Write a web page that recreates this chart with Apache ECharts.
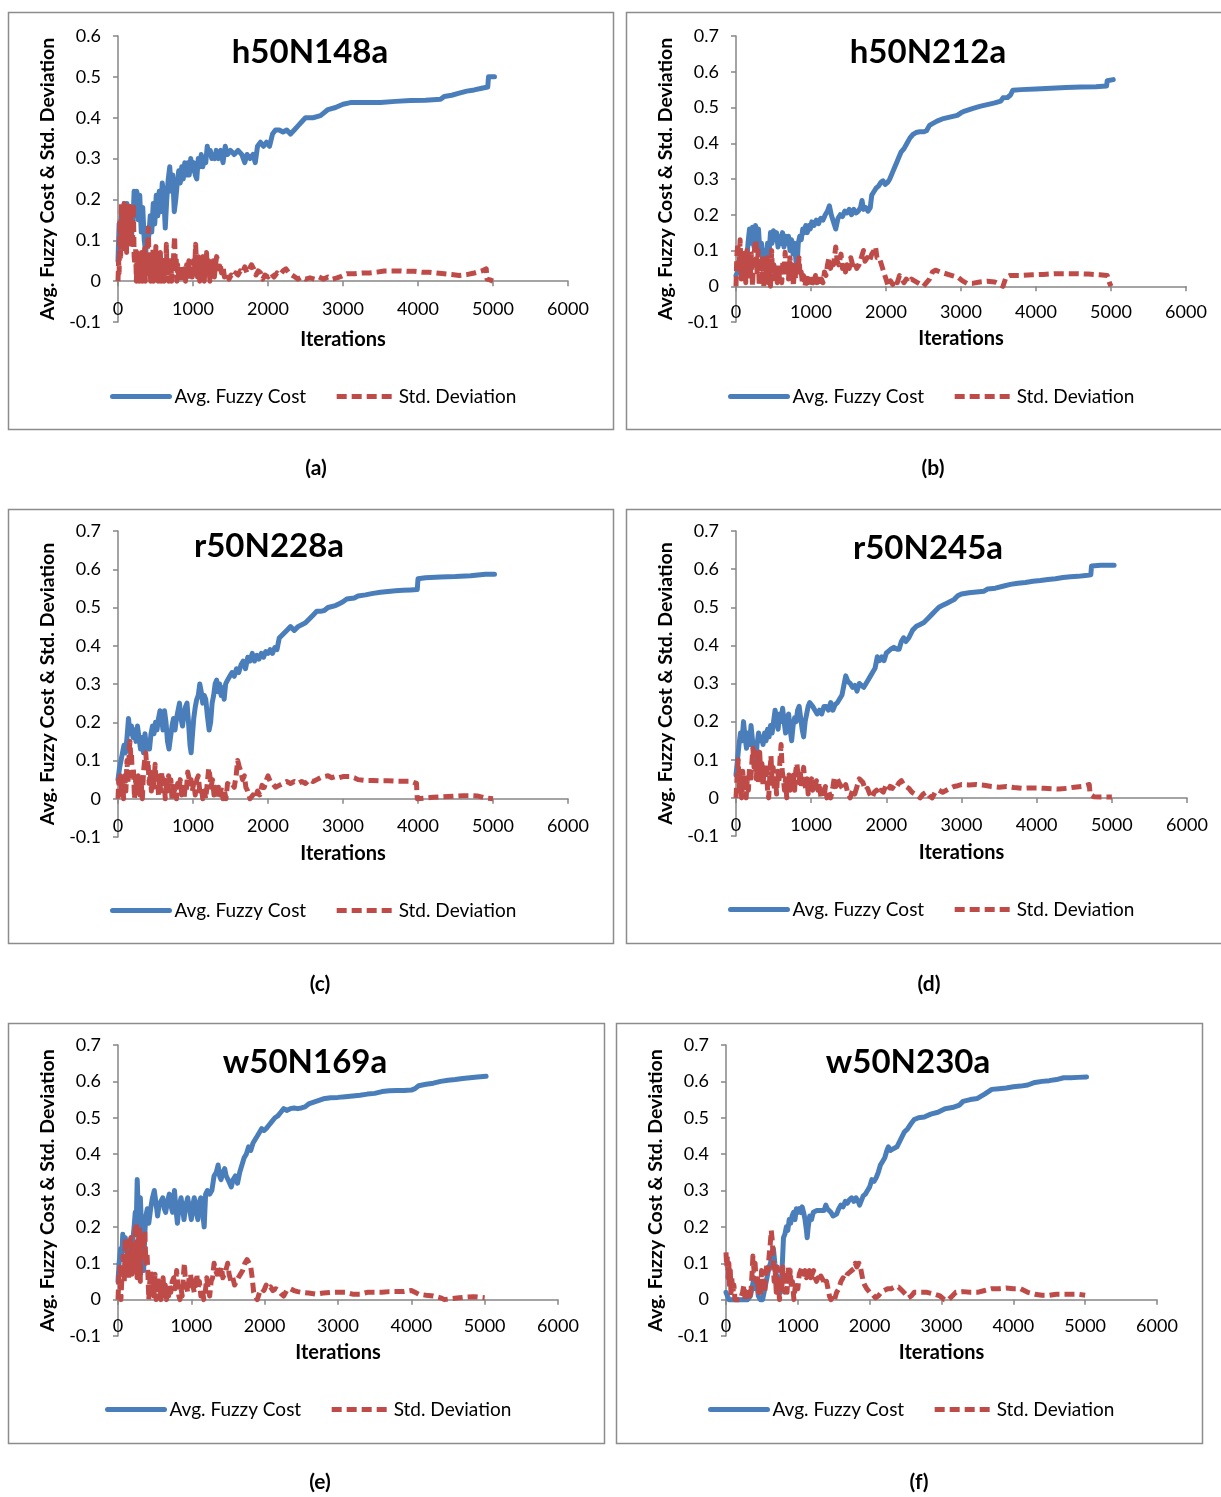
<!DOCTYPE html>
<html>
<head>
<meta charset="utf-8">
<title>Avg. Fuzzy Cost & Std. Deviation</title>
<script src="https://cdn.jsdelivr.net/npm/echarts@6/dist/echarts.min.js"></script>
<style>
  html, body { margin: 0; padding: 0; background: #fff; }
  #chart { width: 1221px; height: 1497px; }
</style>
</head>
<body>
<div id="chart"></div>
<script>
// Noms des séries et textes
const seriesNames = ["Avg. Fuzzy Cost", "Std. Deviation"];
const panelTitles = ["h50N148a", "h50N212a", "r50N228a", "r50N245a", "w50N169a", "w50N230a"];
const captions = ["(a)", "(b)", "(c)", "(d)", "(e)", "(f)"];
const xTicks = [0, 1000, 2000, 3000, 4000, 5000, 6000];
const yMin = -0.1;
const yMaxes = [0.6, 0.7, 0.7, 0.7, 0.7, 0.7];

// (a) h50N148a : [itération, valeur]
const h148Cost = [[0,0.05],[15,0.14],[30,0.1],[45,0.16],[60,0.12],[80,0.19],[100,0.14],[120,0.19],[140,0.12],[160,0.17],[180,0.11],[200,0.15],[215,0.22],[235,0.17],[250,0.22],[270,0.15],[290,0.21],[310,0.12],[330,0.18],[350,0.1],[370,0.07],[390,0.13],[410,0.11],[430,0.16],[450,0.12],[470,0.19],[490,0.14],[510,0.21],[530,0.16],[550,0.22],[570,0.17],[590,0.24],[610,0.21],[630,0.13],[650,0.2],[670,0.25],[690,0.28],[710,0.22],[730,0.26],[750,0.17],[770,0.2],[790,0.24],[810,0.27],[830,0.24],[850,0.28],[870,0.25],[890,0.29],[910,0.26],[930,0.29],[950,0.26],[970,0.3],[990,0.27],[1010,0.29],[1030,0.26],[1050,0.25],[1070,0.3],[1090,0.28],[1110,0.31],[1130,0.28],[1150,0.3],[1170,0.29],[1190,0.33],[1210,0.31],[1230,0.32],[1250,0.3],[1270,0.31],[1290,0.3],[1310,0.32],[1340,0.3],[1370,0.32],[1400,0.29],[1430,0.33],[1460,0.31],[1500,0.32],[1550,0.31],[1600,0.32],[1650,0.31],[1690,0.29],[1720,0.31],[1760,0.3],[1800,0.31],[1830,0.29],[1860,0.33],[1900,0.34],[1940,0.33],[1980,0.34],[2020,0.33],[2060,0.36],[2100,0.37],[2150,0.37],[2200,0.365],[2250,0.37],[2300,0.36],[2350,0.37],[2400,0.38],[2450,0.39],[2500,0.4],[2600,0.4],[2700,0.405],[2800,0.42],[2900,0.425],[3000,0.433],[3100,0.437],[3300,0.437],[3500,0.437],[3700,0.44],[3900,0.442],[4100,0.443],[4300,0.445],[4350,0.452],[4450,0.455],[4550,0.46],[4650,0.465],[4750,0.468],[4850,0.472],[4930,0.475],[4940,0.5],[5020,0.5]];
const h148Std = [[0,0],[8,0.05],[15,0.02],[25,0.15],[35,0.06],[45,0.19],[55,0.1],[65,0.18],[75,0.08],[85,0.19],[95,0.12],[105,0.18],[115,0.07],[125,0.17],[135,0.1],[145,0.19],[155,0.11],[165,0.18],[175,0.09],[185,0.17],[195,0.1],[205,0.19],[215,0.06],[225,0.04],[235,0.08],[245,0],[255,0.07],[265,0.02],[275,0.06],[285,0],[295,0.05],[305,0.01],[315,0.07],[325,0],[335,0.06],[345,0.02],[355,0.08],[365,0],[375,0.06],[385,0.02],[395,0.1],[405,0.13],[415,0.03],[425,0.06],[435,0],[445,0.05],[455,0.01],[465,0.08],[475,0],[485,0.06],[495,0.02],[505,0.085],[515,0.01],[525,0.05],[535,0],[545,0.06],[555,0.02],[565,0.07],[575,0],[585,0.05],[595,0.01],[605,0.06],[615,0],[625,0.05],[635,0.02],[645,0.09],[655,0.01],[665,0.05],[675,0],[685,0.06],[695,0.02],[705,0.05],[715,0],[725,0.06],[735,0.03],[745,0.08],[755,0.11],[765,0.03],[775,0.06],[785,0],[795,0.04],[810,0.01],[825,0.03],[840,0],[855,0.04],[870,0.01],[885,0.03],[900,0],[915,0.04],[930,0.02],[945,0.05],[960,0],[975,0.03],[990,0.01],[1005,0.05],[1020,0.02],[1035,0.09],[1045,0.05],[1060,0.01],[1075,0.06],[1090,0],[1105,0.05],[1120,0.02],[1135,0.06],[1150,0],[1165,0.04],[1180,0.07],[1195,0.02],[1210,0.05],[1225,0],[1240,0.04],[1255,0.02],[1270,0.05],[1285,0.01],[1300,0.04],[1315,0.06],[1330,0.05],[1345,0.03],[1360,0.045],[1380,0.02],[1400,0.035],[1420,0.01],[1450,0.02],[1480,0.005],[1510,0.015],[1540,0.01],[1570,0.02],[1600,0.015],[1630,0.025],[1660,0.02],[1690,0.035],[1720,0.02],[1750,0.03],[1780,0.04],[1810,0.03],[1840,0.015],[1870,0.025],[1900,0.02],[1930,0.005],[1960,0.015],[2000,0.01],[2040,0.02],[2080,0.01],[2120,0.02],[2160,0.015],[2200,0.025],[2240,0.03],[2280,0.02],[2320,0.015],[2360,0.01],[2400,0.005],[2450,0.01],[2500,0.005],[2560,0.008],[2620,0.005],[2680,0.01],[2740,0.005],[2800,0.01],[2860,0.005],[2920,0.008],[2980,0.012],[3050,0.018],[3150,0.018],[3250,0.02],[3350,0.02],[3450,0.022],[3550,0.025],[3650,0.025],[3750,0.025],[3850,0.024],[3950,0.024],[4050,0.022],[4150,0.022],[4250,0.02],[4350,0.018],[4450,0.016],[4550,0.014],[4650,0.016],[4750,0.02],[4850,0.025],[4910,0.03],[4920,0.005],[4960,0.003],[5000,0]];

// (b) h50N212a
const h212Cost = [[0,0.03],[20,0.04],[40,0.05],[60,0.06],[80,0.07],[100,0.05],[120,0.08],[140,0.06],[160,0.12],[180,0.16],[200,0.12],[220,0.165],[240,0.11],[260,0.17],[280,0.12],[300,0.16],[320,0.09],[340,0.12],[360,0.07],[380,0.1],[400,0.07],[420,0.12],[440,0.09],[460,0.15],[480,0.12],[500,0.155],[520,0.13],[540,0.15],[560,0.11],[580,0.14],[600,0.12],[620,0.15],[640,0.11],[660,0.14],[680,0.12],[700,0.14],[720,0.1],[740,0.13],[760,0.09],[780,0.12],[800,0.07],[815,0.06],[830,0.12],[850,0.14],[870,0.13],[890,0.16],[910,0.15],[930,0.17],[950,0.15],[970,0.17],[990,0.16],[1010,0.18],[1040,0.17],[1070,0.185],[1100,0.175],[1130,0.19],[1160,0.185],[1190,0.2],[1220,0.21],[1245,0.225],[1270,0.2],[1300,0.18],[1330,0.16],[1360,0.19],[1390,0.2],[1420,0.195],[1450,0.21],[1480,0.205],[1510,0.215],[1540,0.2],[1570,0.215],[1600,0.205],[1630,0.21],[1660,0.22],[1680,0.24],[1700,0.215],[1730,0.22],[1760,0.21],[1790,0.22],[1810,0.255],[1840,0.265],[1870,0.275],[1900,0.28],[1930,0.29],[1960,0.295],[1990,0.285],[2020,0.29],[2050,0.3],[2080,0.315],[2110,0.33],[2140,0.345],[2170,0.36],[2200,0.375],[2240,0.385],[2280,0.4],[2320,0.415],[2360,0.425],[2400,0.43],[2450,0.432],[2500,0.432],[2540,0.435],[2580,0.45],[2620,0.455],[2680,0.462],[2750,0.468],[2850,0.473],[2950,0.478],[3000,0.485],[3050,0.49],[3150,0.497],[3250,0.503],[3350,0.508],[3450,0.513],[3530,0.518],[3560,0.527],[3620,0.528],[3660,0.535],[3690,0.548],[3800,0.55],[4000,0.552],[4200,0.554],[4400,0.556],[4600,0.557],[4800,0.558],[4940,0.56],[4950,0.575],[5030,0.578]];
const h212Std = [[0,0],[10,0.08],[25,0.12],[40,0.05],[55,0.13],[70,0.02],[85,0.1],[100,0.04],[115,0.09],[130,0.01],[145,0.1],[160,0.03],[175,0.08],[190,0.02],[205,0.09],[220,0],[235,0.07],[250,0.11],[265,0.13],[280,0.04],[295,0.1],[310,0],[325,0.08],[340,0.02],[355,0.09],[370,0],[385,0.06],[400,0.03],[415,0.08],[430,0.01],[445,0.07],[460,0],[475,0.1],[490,0.02],[505,0.06],[520,0.03],[535,0.05],[550,0.01],[565,0.06],[580,0.02],[595,0.05],[610,0.01],[625,0.07],[640,0.03],[655,0.095],[670,0.04],[685,0.06],[700,0.02],[720,0.08],[735,0.03],[750,0.06],[765,0],[780,0.05],[795,0.02],[810,0.07],[825,0.04],[840,0.08],[855,0.03],[870,0.04],[885,0.01],[900,0.03],[920,0],[940,0.03],[960,0.01],[980,0.02],[1000,0],[1020,0.02],[1040,0],[1060,0.03],[1080,0.01],[1100,0.02],[1120,0],[1140,0.02],[1160,0.01],[1180,0.04],[1200,0.03],[1220,0.06],[1240,0.08],[1260,0.05],[1280,0.07],[1300,0.06],[1330,0.11],[1350,0.07],[1370,0.06],[1400,0.09],[1420,0.05],[1440,0.07],[1460,0.04],[1480,0.06],[1510,0.05],[1530,0.08],[1555,0.06],[1580,0.07],[1610,0.05],[1640,0.06],[1670,0.08],[1700,0.1],[1720,0.07],[1750,0.08],[1780,0.07],[1810,0.09],[1840,0.1],[1860,0.11],[1880,0.08],[1910,0.08],[1940,0.06],[1970,0.04],[2000,0.02],[2030,0],[2060,0.015],[2090,0.005],[2120,0.02],[2150,0.01],[2180,0.03],[2210,0.02],[2240,0.01],[2270,0.02],[2300,0.01],[2340,0.02],[2380,0.015],[2420,0.01],[2460,0.005],[2500,0],[2540,0.01],[2580,0.02],[2620,0.04],[2660,0.045],[2720,0.04],[2800,0.035],[2880,0.03],[2960,0.025],[3020,0.015],[3080,0.008],[3150,0.008],[3250,0.012],[3350,0.014],[3450,0.012],[3520,0.005],[3560,0],[3600,0.025],[3650,0.03],[3800,0.03],[3950,0.032],[4100,0.033],[4250,0.035],[4400,0.035],[4550,0.035],[4700,0.034],[4850,0.032],[4950,0.03],[4980,0.01],[5000,0]];

// (c) r50N228a
const r228Cost = [[0,0.05],[20,0.08],[40,0.1],[60,0.12],[80,0.14],[100,0.12],[120,0.16],[140,0.21],[160,0.17],[180,0.19],[200,0.16],[220,0.18],[240,0.15],[260,0.19],[280,0.16],[300,0.13],[320,0.16],[340,0.12],[360,0.17],[380,0.13],[400,0.15],[420,0.13],[440,0.17],[460,0.19],[480,0.17],[500,0.2],[520,0.18],[540,0.21],[560,0.23],[580,0.21],[600,0.18],[620,0.23],[640,0.2],[660,0.15],[680,0.13],[700,0.16],[720,0.19],[740,0.21],[760,0.18],[780,0.21],[800,0.23],[820,0.25],[840,0.21],[860,0.19],[880,0.22],[900,0.24],[920,0.25],[940,0.2],[960,0.14],[975,0.12],[990,0.16],[1010,0.21],[1030,0.24],[1050,0.26],[1070,0.27],[1090,0.3],[1110,0.28],[1130,0.25],[1150,0.27],[1170,0.26],[1190,0.22],[1215,0.18],[1235,0.2],[1255,0.25],[1275,0.27],[1295,0.3],[1315,0.31],[1335,0.28],[1355,0.3],[1375,0.27],[1395,0.29],[1415,0.26],[1435,0.3],[1460,0.31],[1490,0.32],[1520,0.33],[1550,0.32],[1580,0.34],[1610,0.33],[1640,0.35],[1670,0.36],[1700,0.34],[1730,0.37],[1760,0.36],[1790,0.38],[1820,0.36],[1850,0.375],[1880,0.365],[1910,0.38],[1940,0.37],[1970,0.385],[2000,0.38],[2030,0.39],[2060,0.38],[2090,0.395],[2120,0.39],[2150,0.42],[2200,0.43],[2250,0.44],[2300,0.45],[2350,0.44],[2400,0.45],[2450,0.455],[2500,0.46],[2550,0.47],[2600,0.48],[2650,0.49],[2700,0.49],[2750,0.492],[2800,0.5],[2900,0.505],[2950,0.51],[3000,0.515],[3050,0.522],[3150,0.525],[3200,0.53],[3300,0.533],[3400,0.537],[3500,0.54],[3600,0.542],[3700,0.544],[3800,0.545],[3900,0.546],[3990,0.547],[4000,0.575],[4100,0.578],[4300,0.58],[4500,0.581],[4700,0.583],[4800,0.585],[4900,0.587],[5020,0.587]];
const r228Std = [[0,0],[10,0.05],[20,0.01],[30,0.06],[45,0.02],[60,0.05],[75,0],[90,0.06],[105,0.02],[120,0.1],[135,0.04],[150,0.13],[160,0.15],[170,0.11],[180,0.12],[190,0.06],[205,0.08],[220,0],[235,0.05],[250,0.02],[270,0.06],[290,0.01],[310,0.04],[325,0],[340,0.07],[355,0.1],[370,0.12],[385,0.08],[400,0.1],[415,0.04],[430,0.07],[445,0.02],[460,0.06],[475,0.03],[495,0.09],[510,0.04],[525,0.06],[540,0.01],[555,0.05],[570,0.02],[585,0.07],[600,0.03],[615,0.05],[630,0],[645,0.04],[660,0.02],[675,0.06],[690,0.03],[705,0.05],[720,0],[735,0.04],[750,0.02],[765,0.03],[780,0],[795,0.04],[810,0.02],[830,0.05],[850,0.01],[865,0.03],[880,0],[895,0.03],[910,0.02],[930,0.07],[945,0.075],[960,0.04],[975,0.05],[990,0.02],[1010,0.04],[1030,0.01],[1050,0.05],[1070,0.06],[1090,0.02],[1110,0.03],[1130,0],[1150,0.02],[1170,0],[1190,0.04],[1210,0.08],[1225,0.06],[1240,0.03],[1260,0.05],[1280,0.01],[1300,0.03],[1320,0],[1340,0.03],[1360,0.01],[1380,0.03],[1400,0],[1420,0.02],[1440,0],[1460,0.04],[1490,0.035],[1520,0.04],[1550,0.03],[1575,0.06],[1595,0.1],[1615,0.085],[1640,0.07],[1660,0.05],[1685,0.06],[1705,0.03],[1730,0.02],[1760,0],[1800,0.01],[1830,0],[1860,0.02],[1890,0.01],[1920,0.035],[1950,0.03],[1980,0.05],[2000,0.06],[2030,0.045],[2060,0.04],[2100,0.03],[2150,0.035],[2200,0.04],[2250,0.045],[2300,0.04],[2350,0.045],[2400,0.04],[2450,0.045],[2500,0.04],[2550,0.05],[2600,0.045],[2650,0.05],[2700,0.055],[2750,0.058],[2800,0.06],[2850,0.055],[2900,0.058],[2950,0.055],[3000,0.058],[3100,0.058],[3150,0.055],[3200,0.05],[3300,0.048],[3400,0.048],[3500,0.047],[3600,0.047],[3700,0.046],[3800,0.046],[3900,0.046],[3980,0.04],[3990,0],[4100,0.002],[4200,0.004],[4300,0.005],[4400,0.006],[4500,0.007],[4600,0.008],[4700,0.008],[4800,0.007],[4900,0.002],[5000,0]];

// (d) r50N245a
const r245Cost = [[0,0.06],[20,0.1],[40,0.14],[60,0.17],[80,0.15],[100,0.2],[120,0.16],[140,0.13],[160,0.17],[180,0.14],[200,0.19],[220,0.15],[240,0.11],[260,0.09],[280,0.14],[300,0.17],[320,0.15],[340,0.16],[360,0.14],[380,0.17],[400,0.15],[420,0.18],[440,0.16],[460,0.19],[480,0.17],[500,0.2],[520,0.23],[540,0.21],[560,0.18],[580,0.22],[600,0.2],[620,0.235],[640,0.2],[660,0.17],[680,0.21],[700,0.22],[720,0.18],[740,0.15],[760,0.19],[780,0.21],[800,0.2],[820,0.23],[840,0.24],[860,0.21],[880,0.18],[900,0.16],[920,0.2],[940,0.22],[960,0.24],[980,0.25],[1000,0.255],[1020,0.24],[1050,0.23],[1080,0.22],[1110,0.23],[1140,0.22],[1170,0.24],[1200,0.24],[1230,0.23],[1260,0.25],[1290,0.23],[1320,0.245],[1350,0.25],[1380,0.26],[1410,0.27],[1440,0.3],[1460,0.32],[1490,0.305],[1520,0.3],[1550,0.29],[1580,0.295],[1610,0.28],[1640,0.3],[1670,0.295],[1700,0.29],[1730,0.3],[1760,0.31],[1790,0.32],[1820,0.33],[1850,0.34],[1880,0.37],[1910,0.36],[1940,0.37],[1970,0.36],[2000,0.38],[2030,0.385],[2060,0.39],[2100,0.395],[2140,0.39],[2170,0.39],[2200,0.41],[2230,0.42],[2260,0.41],[2300,0.42],[2350,0.44],[2400,0.45],[2450,0.455],[2500,0.46],[2550,0.47],[2600,0.48],[2650,0.49],[2700,0.5],[2750,0.505],[2800,0.51],[2850,0.515],[2900,0.52],[2950,0.53],[3000,0.535],[3100,0.538],[3200,0.54],[3300,0.542],[3350,0.548],[3450,0.55],[3550,0.555],[3650,0.56],[3750,0.563],[3850,0.565],[3950,0.568],[4050,0.57],[4150,0.573],[4250,0.575],[4350,0.578],[4450,0.58],[4550,0.581],[4650,0.583],[4720,0.585],[4730,0.608],[4850,0.61],[5030,0.61]];
const r245Std = [[0,0],[15,0.06],[30,0.1],[45,0.02],[60,0.05],[75,0],[90,0.07],[105,0.02],[120,0.06],[135,0],[150,0.05],[165,0.02],[180,0.08],[195,0.04],[210,0.09],[225,0.13],[240,0.08],[255,0.12],[270,0.05],[285,0.1],[300,0.04],[315,0.12],[330,0.06],[345,0.09],[360,0.03],[375,0.08],[390,0.05],[405,0.09],[420,0.02],[435,0],[450,0.06],[465,0.11],[480,0.05],[495,0.08],[510,0.02],[525,0.05],[540,0.01],[555,0.07],[570,0.04],[585,0.1],[600,0.14],[615,0.07],[630,0.05],[645,0.02],[660,0.05],[675,0],[690,0.04],[705,0.06],[720,0.02],[735,0.05],[750,0.03],[765,0.06],[780,0.02],[795,0.07],[810,0.09],[825,0.06],[840,0.04],[855,0.07],[870,0.03],[885,0.06],[900,0.08],[915,0.04],[930,0.02],[945,0.05],[960,0.01],[975,0.04],[990,0.02],[1005,0.05],[1020,0.02],[1035,0.04],[1050,0.03],[1070,0.045],[1090,0.02],[1110,0.04],[1130,0],[1150,0.02],[1170,0],[1190,0.03],[1210,0],[1230,0.02],[1260,0],[1290,0.03],[1310,0.055],[1330,0.03],[1350,0.05],[1370,0.04],[1400,0.03],[1430,0.02],[1460,0.035],[1490,0.01],[1520,0],[1550,0.02],[1580,0.01],[1610,0.03],[1640,0.05],[1660,0.055],[1690,0.04],[1720,0.02],[1750,0.025],[1780,0.01],[1810,0],[1840,0.015],[1870,0.02],[1900,0.01],[1930,0.02],[1960,0.015],[1990,0.03],[2020,0.02],[2050,0.03],[2080,0.025],[2110,0.035],[2140,0.03],[2170,0.04],[2200,0.045],[2230,0.035],[2260,0.03],[2300,0.025],[2340,0.015],[2380,0.01],[2420,0.005],[2450,0],[2490,0.01],[2530,0.015],[2570,0.005],[2610,0],[2650,0.015],[2700,0.02],[2750,0.015],[2800,0.02],[2850,0.025],[2900,0.03],[2950,0.032],[3000,0.035],[3100,0.034],[3200,0.035],[3300,0.033],[3400,0.03],[3500,0.028],[3600,0.03],[3700,0.027],[3800,0.025],[3900,0.026],[4000,0.026],[4100,0.025],[4200,0.024],[4300,0.023],[4400,0.025],[4500,0.028],[4600,0.03],[4700,0.035],[4710,0.01],[4760,0.003],[4850,0.002],[5000,0.002]];

// (e) w50N169a
const w169Cost = [[0,0.05],[15,0.1],[35,0.14],[50,0.11],[65,0.18],[80,0.15],[100,0.17],[120,0.13],[140,0.16],[160,0.14],[180,0.17],[200,0.16],[220,0.2],[235,0.24],[250,0.22],[262,0.33],[275,0.25],[290,0.19],[305,0.28],[320,0.2],[335,0.1],[350,0.08],[365,0.18],[380,0.23],[400,0.25],[420,0.21],[445,0.25],[470,0.28],[495,0.3],[515,0.27],[540,0.23],[560,0.26],[585,0.27],[610,0.28],[630,0.25],[650,0.24],[675,0.27],[700,0.29],[720,0.26],[745,0.24],[770,0.3],[790,0.25],[810,0.21],[835,0.26],[860,0.28],[880,0.25],[900,0.22],[925,0.26],[950,0.28],[975,0.25],[1000,0.22],[1020,0.26],[1040,0.28],[1065,0.24],[1090,0.22],[1110,0.27],[1130,0.28],[1155,0.24],[1175,0.2],[1195,0.29],[1220,0.3],[1250,0.29],[1280,0.3],[1310,0.34],[1340,0.35],[1365,0.37],[1385,0.34],[1405,0.33],[1430,0.35],[1455,0.36],[1475,0.34],[1500,0.33],[1520,0.33],[1545,0.31],[1570,0.33],[1600,0.34],[1630,0.32],[1660,0.35],[1690,0.37],[1720,0.39],[1750,0.4],[1780,0.42],[1810,0.41],[1840,0.43],[1870,0.44],[1900,0.45],[1930,0.46],[1960,0.47],[1990,0.465],[2020,0.47],[2060,0.48],[2100,0.49],[2140,0.5],[2180,0.505],[2220,0.515],[2260,0.525],[2300,0.52],[2350,0.525],[2400,0.527],[2450,0.525],[2500,0.527],[2550,0.53],[2600,0.538],[2700,0.545],[2800,0.552],[2900,0.555],[3000,0.556],[3100,0.558],[3200,0.56],[3300,0.562],[3400,0.565],[3500,0.567],[3600,0.572],[3700,0.574],[3800,0.575],[3900,0.575],[4000,0.576],[4050,0.58],[4100,0.588],[4200,0.592],[4300,0.595],[4400,0.6],[4500,0.603],[4600,0.605],[4700,0.608],[4800,0.61],[4900,0.612],[5020,0.614]];
const w169Std = [[0,0],[12,0.06],[25,0.09],[40,0],[55,0.07],[70,0.12],[85,0.05],[100,0.17],[115,0.08],[130,0.13],[145,0.06],[160,0.15],[175,0.17],[190,0.07],[205,0.14],[220,0.09],[235,0.2],[248,0.21],[260,0.06],[275,0.15],[290,0.2],[305,0.05],[320,0.17],[335,0.18],[350,0.12],[365,0.19],[380,0.1],[395,0.13],[410,0.06],[420,0],[430,0.04],[445,0.08],[460,0.02],[475,0.05],[490,0.01],[505,0.07],[520,0],[540,0.06],[555,0.02],[570,0.05],[585,0],[600,0.03],[615,0.06],[630,0.01],[645,0.04],[660,0],[675,0.03],[690,0.01],[705,0.04],[720,0.02],[740,0.05],[760,0.06],[780,0.03],[800,0.08],[815,0.04],[830,0.01],[845,0],[860,0.03],[875,0.01],[890,0.06],[905,0.1],[920,0.05],[935,0.04],[950,0.02],[970,0.06],[990,0.07],[1005,0.03],[1020,0.04],[1040,0.02],[1060,0.05],[1075,0.07],[1090,0.03],[1110,0.05],[1130,0.01],[1150,0.03],[1170,0],[1190,0.02],[1210,0.06],[1230,0.03],[1250,0.01],[1270,0.05],[1290,0.06],[1310,0.1],[1330,0.08],[1350,0.07],[1370,0.09],[1390,0.07],[1410,0.09],[1430,0.06],[1450,0.07],[1470,0.08],[1495,0.1],[1515,0.07],[1540,0.05],[1565,0.06],[1590,0.04],[1615,0.05],[1640,0.06],[1670,0.07],[1700,0.08],[1730,0.1],[1760,0.11],[1790,0.1],[1810,0.09],[1830,0.06],[1850,0.02],[1870,0.01],[1900,0],[1930,0.02],[1960,0.03],[1990,0.025],[2020,0.04],[2050,0.03],[2080,0.035],[2110,0.025],[2150,0.03],[2190,0.025],[2230,0.015],[2260,0.01],[2300,0.025],[2350,0.03],[2400,0.025],[2450,0.022],[2500,0.02],[2600,0.018],[2700,0.015],[2800,0.018],[2900,0.02],[3000,0.02],[3100,0.02],[3200,0.015],[3300,0.015],[3400,0.02],[3500,0.02],[3600,0.02],[3700,0.022],[3800,0.022],[3900,0.022],[4000,0.025],[4050,0.02],[4100,0.015],[4200,0.012],[4300,0.01],[4400,0.005],[4450,0],[4550,0.003],[4650,0.005],[4750,0.007],[4850,0.008],[4950,0.006],[5000,0.005]];

// (f) w50N230a
const w230Cost = [[0,0.02],[20,0.01],[40,0],[100,0],[200,0],[300,0],[340,0.01],[370,0.04],[390,0.06],[410,0.03],[430,0.05],[450,0.01],[480,0],[510,0],[540,0.03],[570,0.06],[600,0.09],[620,0.1],[640,0.13],[660,0.14],[680,0.1],[700,0.07],[720,0.05],[740,0.03],[760,0.02],[780,0.08],[800,0.17],[820,0.18],[840,0.2],[860,0.19],[880,0.22],[900,0.21],[920,0.23],[940,0.24],[960,0.22],[980,0.25],[1000,0.24],[1020,0.25],[1040,0.24],[1060,0.255],[1080,0.24],[1100,0.22],[1120,0.19],[1130,0.17],[1145,0.2],[1165,0.23],[1190,0.22],[1215,0.24],[1240,0.235],[1265,0.245],[1290,0.24],[1315,0.245],[1340,0.24],[1365,0.245],[1390,0.26],[1410,0.25],[1430,0.245],[1460,0.24],[1490,0.23],[1510,0.225],[1540,0.235],[1570,0.25],[1600,0.26],[1630,0.255],[1660,0.27],[1690,0.265],[1720,0.275],[1750,0.28],[1780,0.27],[1810,0.28],[1840,0.27],[1860,0.26],[1880,0.27],[1910,0.285],[1940,0.29],[1970,0.3],[2000,0.31],[2030,0.33],[2060,0.325],[2090,0.335],[2120,0.35],[2150,0.37],[2180,0.38],[2210,0.39],[2240,0.41],[2260,0.42],[2290,0.41],[2330,0.415],[2380,0.42],[2430,0.44],[2480,0.46],[2530,0.47],[2580,0.485],[2620,0.495],[2680,0.5],[2760,0.502],[2850,0.51],[2950,0.515],[3000,0.52],[3050,0.525],[3150,0.528],[3250,0.535],[3300,0.545],[3400,0.55],[3500,0.553],[3600,0.565],[3700,0.578],[3800,0.58],[3900,0.582],[4000,0.585],[4100,0.587],[4200,0.59],[4300,0.597],[4400,0.6],[4500,0.602],[4600,0.605],[4700,0.61],[4800,0.61],[4900,0.611],[5020,0.612]];
const w230Std = [[0,0.13],[10,0.09],[20,0.12],[30,0.06],[40,0.1],[50,0.03],[60,0.08],[70,0.01],[80,0.06],[95,0.02],[110,0.04],[125,0],[160,0],[200,0],[230,0.02],[250,0.04],[265,0],[290,0],[310,0.02],[330,0],[350,0.03],[365,0.08],[375,0.12],[390,0.08],[405,0.1],[420,0.05],[435,0.07],[450,0.02],[465,0.05],[480,0.01],[495,0.08],[510,0.04],[525,0.06],[540,0.02],[555,0.07],[570,0.1],[585,0.08],[600,0.12],[615,0.15],[630,0.19],[645,0.16],[655,0.12],[670,0.05],[685,0.08],[700,0.02],[715,0.09],[730,0.04],[745,0],[760,0.06],[775,0.02],[790,0.09],[805,0.04],[820,0.02],[835,0.06],[850,0.02],[865,0.09],[880,0.05],[895,0.08],[910,0.03],[925,0.05],[945,0],[960,0.03],[980,0.05],[1000,0.03],[1020,0.07],[1040,0.08],[1060,0.09],[1080,0.07],[1100,0.08],[1120,0.06],[1140,0.07],[1160,0.08],[1180,0.06],[1200,0.07],[1220,0.08],[1240,0.06],[1260,0.05],[1280,0.06],[1300,0.05],[1320,0.065],[1340,0.07],[1360,0.05],[1380,0.04],[1400,0.05],[1420,0.03],[1440,0.01],[1460,0],[1490,0.01],[1510,0],[1540,0.02],[1570,0.03],[1600,0.05],[1630,0.06],[1660,0.055],[1690,0.07],[1720,0.075],[1750,0.08],[1780,0.085],[1800,0.1],[1820,0.09],[1850,0.1],[1870,0.09],[1890,0.07],[1910,0.05],[1930,0.04],[1960,0.03],[2000,0.02],[2040,0.015],[2080,0.005],[2120,0.01],[2160,0.02],[2200,0.025],[2250,0.03],[2300,0.03],[2350,0.035],[2400,0.035],[2450,0.025],[2500,0.015],[2540,0.005],[2580,0.01],[2620,0.02],[2700,0.02],[2800,0.02],[2900,0.015],[2980,0.01],[3040,0],[3100,0],[3150,0.01],[3200,0.02],[3300,0.022],[3400,0.02],[3500,0.02],[3600,0.025],[3700,0.03],[3800,0.03],[3900,0.032],[4000,0.03],[4100,0.03],[4200,0.02],[4300,0.015],[4400,0.012],[4500,0.012],[4600,0.015],[4700,0.015],[4800,0.015],[4900,0.015],[5000,0.012]];

const costData = [h148Cost, h212Cost, r228Cost, r245Cost, w169Cost, w230Cost];
const stdData = [h148Std, h212Std, r228Std, r245Std, w169Std, w230Std];

// Placement de chaque panneau (pixels) ; lab / name = distance voulue sous la ligne du zéro
const layout = [
  { box: [8, 12, 605, 417], grid: [118, 36, 450, 286], title: [310, 52], caption: [316, 468], legend: [113, 385], lab: 28, name: 58 },
  { box: [626, 12, 620, 417], grid: [736, 36, 450, 286], title: [928, 52], caption: [933, 468], legend: [731, 385], lab: 26, name: 52 },
  { box: [8, 509, 605, 434], grid: [118, 531, 450, 306], title: [269, 546], caption: [320, 984], legend: [113, 899], lab: 27, name: 55 },
  { box: [626, 509, 620, 434], grid: [736, 531, 451, 305], title: [928, 548], caption: [929, 984], legend: [731, 898], lab: 27, name: 55 },
  { box: [8, 1023, 596, 420], grid: [118, 1045, 440, 291], title: [305, 1062], caption: [320, 1482], legend: [108, 1398], lab: 27, name: 53 },
  { box: [616, 1023, 586, 420], grid: [726, 1045, 431, 291], title: [908, 1062], caption: [919, 1482], legend: [711, 1398], lab: 27, name: 53 }
];

const FONT = "Lato";
const BLUE = "#4A7EBB";
const RED = "#BE4B48";
const AXIS = "#868686";
const TICK_FS = 18;
const NAME_FS = 20;

const chart = echarts.init(document.getElementById("chart"), null, { renderer: "canvas" });

const grids = [], xAxes = [], yAxes = [], series = [], titles = [], legends = [], boxes = [];

layout.forEach((p, i) => {
  grids.push({ left: p.grid[0], top: p.grid[1], width: p.grid[2], height: p.grid[3] });

  // l'axe X passe par zéro mais les étiquettes restent au bas de la grille : on compense
  const belowZero = p.grid[3] * (0 - yMin) / (yMaxes[i] - yMin);

  xAxes.push({
    type: "value", gridIndex: i, min: 0, max: 6000, interval: 1000,
    name: "Iterations", nameLocation: "middle", nameGap: p.name - belowZero - NAME_FS / 2,
    nameTextStyle: { fontFamily: FONT, fontSize: NAME_FS, fontWeight: "bold", color: "#000" },
    axisLine: { onZero: true, lineStyle: { color: AXIS, width: 1.5 } },
    axisTick: { show: true, length: 5, lineStyle: { color: AXIS, width: 1.5 } },
    axisLabel: { margin: p.lab - belowZero - TICK_FS / 2, fontFamily: FONT, fontSize: TICK_FS, color: "#000",
      formatter: v => String(v) },
    splitLine: { show: false }
  });

  yAxes.push({
    type: "value", gridIndex: i, min: yMin, max: yMaxes[i], interval: 0.1,
    name: "Avg. Fuzzy Cost & Std. Deviation", nameLocation: "middle", nameGap: 60, nameRotate: 90,
    nameTextStyle: { fontFamily: FONT, fontSize: 19.5, fontWeight: "bold", color: "#000" },
    axisLine: { show: true, lineStyle: { color: AXIS, width: 1.5 } },
    axisTick: { show: true, length: 5, lineStyle: { color: AXIS, width: 1.5 } },
    axisLabel: { margin: 17, fontFamily: FONT, fontSize: TICK_FS, color: "#000",
      formatter: v => String(Math.round(v * 10) / 10) },
    splitLine: { show: false }
  });

  series.push({
    name: seriesNames[0], type: "line", xAxisIndex: i, yAxisIndex: i,
    data: costData[i], symbol: "none", showSymbol: false, z: 2,
    lineStyle: { color: BLUE, width: 5, join: "round", cap: "round" },
    itemStyle: { color: BLUE }
  });
  series.push({
    name: seriesNames[1], type: "line", xAxisIndex: i, yAxisIndex: i,
    data: stdData[i], symbol: "none", showSymbol: false, z: 3,
    lineStyle: { color: RED, width: 5, type: [10, 5], join: "round" },
    itemStyle: { color: RED }
  });

  titles.push({
    text: panelTitles[i], left: p.title[0], top: p.title[1], padding: 0,
    textAlign: "center", textVerticalAlign: "middle",
    textStyle: { fontFamily: FONT, fontSize: 33, fontWeight: "bold", color: "#000" }
  });
  titles.push({
    text: captions[i], left: p.caption[0], top: p.caption[1], padding: 0,
    textAlign: "center", textVerticalAlign: "middle",
    textStyle: { fontFamily: FONT, fontSize: 21, fontWeight: "bold", color: "#000" }
  });

  legends.push({
    data: seriesNames, left: p.legend[0] - 3, top: p.legend[1] + 2, padding: 0,
    itemWidth: 57, itemHeight: 14, itemGap: 28, selectedMode: false,
    itemStyle: { color: "rgba(0,0,0,0)", borderColor: "rgba(0,0,0,0)", borderWidth: 0 },
    lineStyle: { width: 5 },
    textStyle: { fontFamily: FONT, fontSize: 19, color: "#000" }
  });

  boxes.push({
    type: "rect", silent: true, z: -1,
    shape: { x: p.box[0] + 0.5, y: p.box[1] + 0.5, width: p.box[2], height: p.box[3] },
    style: { fill: null, stroke: "#8c8c8c", lineWidth: 1.5 }
  });
});

chart.setOption({
  animation: false,
  backgroundColor: "#fff",
  title: titles,
  legend: legends,
  grid: grids,
  xAxis: xAxes,
  yAxis: yAxes,
  series: series,
  graphic: { elements: boxes }
});
</script>
</body>
</html>
